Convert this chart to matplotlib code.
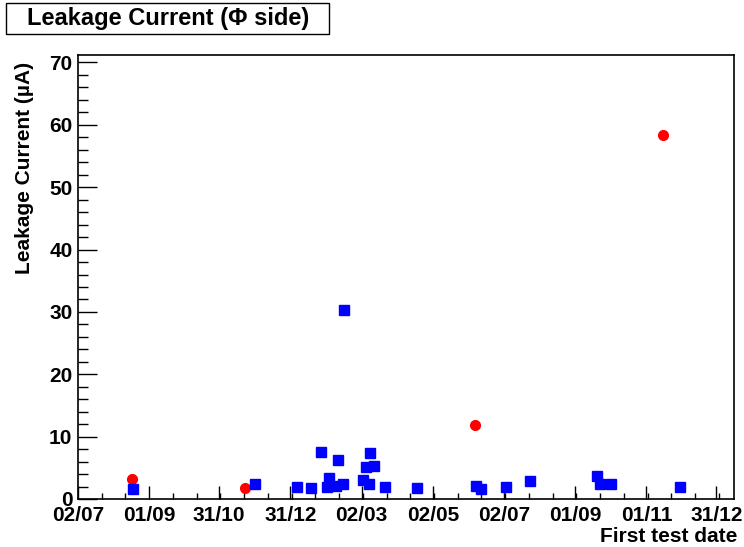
import matplotlib
matplotlib.use('Agg')
import matplotlib.pyplot as plt
import matplotlib.dates as mdates
from matplotlib.patches import Rectangle
from matplotlib.ticker import MultipleLocator, FixedLocator, AutoMinorLocator
import pandas as pd

plt.rcParams['font.family'] = ['Liberation Sans', 'DejaVu Sans']
plt.rcParams['font.weight'] = 'bold'

# modules with normal leakage (blue squares)
blue_dates = ['2004-08-18', '2004-12-01', '2005-01-06', '2005-01-18', '2005-01-26',
              '2005-01-31', '2005-02-02', '2005-02-08', '2005-02-10', '2005-02-14',
              '2005-02-15', '2005-03-03', '2005-03-06', '2005-03-08', '2005-03-09',
              '2005-03-13', '2005-03-22', '2005-04-18', '2005-06-08', '2005-06-12',
              '2005-07-04', '2005-07-24', '2005-09-20', '2005-09-22', '2005-10-02',
              '2005-11-30']
blue_current = [1.6, 2.4, 1.85, 1.7, 7.6,
                1.95, 3.4, 2.05, 6.3, 2.4,
                30.3, 3.1, 5.15, 2.4, 7.45,
                5.25, 1.85, 1.7, 2.15, 1.6,
                1.95, 2.9, 3.65, 2.4, 2.4,
                1.95]

# flagged modules (red circles)
red_dates = ['2004-08-17', '2004-11-22', '2005-06-07', '2005-11-15']
red_current = [3.2, 1.8, 11.8, 58.4]

tick_dates = ['2004-07-02', '2004-09-01', '2004-10-31', '2004-12-31', '2005-03-02',
              '2005-05-02', '2005-07-02', '2005-09-01', '2005-11-01', '2005-12-31']
x_range = ['2004-07-02', '2006-01-15']

bx = mdates.date2num(pd.to_datetime(blue_dates))
rx = mdates.date2num(pd.to_datetime(red_dates))
tx = mdates.date2num(pd.to_datetime(tick_dates))
xr = mdates.date2num(pd.to_datetime(x_range))

fig = plt.figure(figsize=(7.44, 5.47), dpi=100)
ax = fig.add_axes([78/744, 1-499/547, (734-78)/744, (499-55)/547])

ax.plot(rx, red_current, 'o', color='#ff0000', mec='#ff0000', ms=7)
ax.plot(bx, blue_current, 's', color='#0000ff', mec='#0000ff', ms=7)

ax.set_xlim(xr[0], xr[1])
ax.set_ylim(0, 71.2)

ax.xaxis.set_major_locator(FixedLocator(tx))
ax.xaxis.set_minor_locator(AutoMinorLocator(3))
ax.xaxis.set_major_formatter(mdates.DateFormatter('%d/%m'))
ax.yaxis.set_major_locator(MultipleLocator(10))
ax.yaxis.set_minor_locator(MultipleLocator(2))

ax.tick_params(which='both', direction='in', top=False, right=False, width=1, labelsize=15)
ax.tick_params(axis='y', which='major', length=13.7, pad=4)
ax.tick_params(axis='y', which='minor', length=7.2)
ax.tick_params(axis='x', which='major', length=9.1, pad=5)
ax.tick_params(axis='x', which='minor', length=4.3)
for s in ax.spines.values():
    s.set_linewidth(1.2)

fig.text(737/744, 1-537/547, 'First test date', fontsize=15, ha='right', va='center')
fig.text(25/744, 1-62/547, 'Leakage Current (\u00b5A)', fontsize=15, rotation=90,
         ha='center', va='top')

fig.patches.append(Rectangle((5.7/744, 1-34/547), (329-5.7)/744, 31.3/547,
                             transform=fig.transFigure, fc='white', ec='black', lw=1))
fig.text(168/744, 1-19/547, 'Leakage Current (\u03a6 side)', fontsize=17,
         ha='center', va='center')

fig.savefig('out.png', dpi=100)
